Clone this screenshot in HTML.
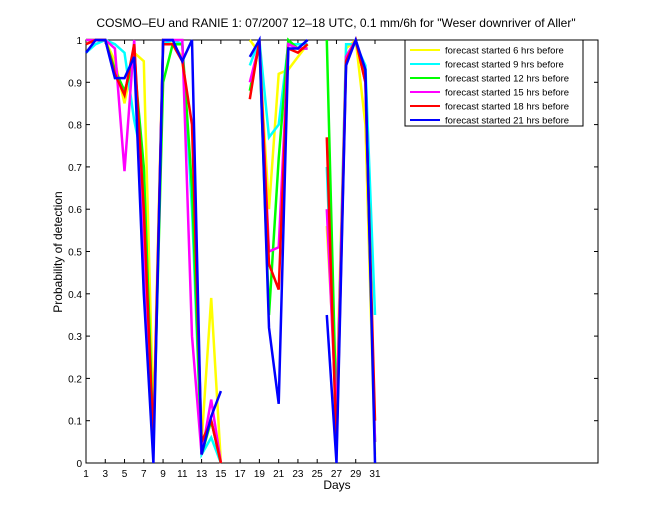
<!DOCTYPE html>
<html><head><meta charset="utf-8"><style>
body{margin:0;background:#fff;font-family:"Liberation Sans",sans-serif}
svg text{font-family:"Liberation Sans",sans-serif}
</style></head><body>
<svg id="chart" width="660" height="520">
<rect x="0" y="0" width="660" height="520" fill="#fff"/>
<text x="336" y="27" font-size="12" text-anchor="middle">COSMO–EU and RANIE 1: 07/2007 12–18 UTC, 0.1 mm/6h for "Weser downriver of Aller"</text>
<rect x="86" y="40" width="512" height="423" fill="#fff" stroke="#000"/>
<g id="axes"></g>
<g id="series"></g>
<text x="337" y="489" font-size="12" text-anchor="middle">Days</text>
<text x="62" y="252" font-size="12" text-anchor="middle" transform="rotate(-90 62 252)">Probability of detection</text>
<g id="legend"></g>
</svg>
<script>
const days=[1,2,3,4,5,6,7,8,9,10,11,12,13,14,15,16,17,18,19,20,21,22,23,24,25,26,27,28,29,30,31];
const seriesNames=["forecast started 6 hrs before","forecast started 9 hrs before","forecast started 12 hrs before","forecast started 15 hrs before","forecast started 18 hrs before","forecast started 21 hrs before"];
const seriesColors=["#ffff00","#00ffff","#00ff00","#ff00ff","#ff0000","#0000ff"];
const s6=[1,1,1,.95,.85,.97,.95,.1,1,.99,.96,.65,.05,.39,0,null,null,1,.97,.6,.92,.93,.96,.99,null,.56,.15,.98,1,.8,.02];
const s9=[.97,.99,1,.99,.97,.81,.7,.03,.99,1,.99,.6,.02,.06,0,null,null,.94,1,.77,.8,.99,.99,.99,null,.7,.1,.99,.99,.94,.35];
const s12=[1,1,1,.93,.88,.95,.7,.05,.9,.99,.99,.65,.02,.1,0,null,null,.88,.99,.35,.72,1,.98,.98,null,1,.1,.96,1,.92,.05];
const s15=[1,1,1,.98,.69,1,.5,.05,1,1,1,.3,.02,.15,0,null,null,.9,.99,.5,.51,.99,.98,.98,null,.6,.1,.96,1,.9,.05];
const s18=[.99,1,1,.92,.87,.99,.6,.05,.99,.99,.95,.8,.05,.1,0,null,null,.86,1,.47,.41,.98,.97,.99,null,.77,.03,.95,1,.9,.1];
const s21=[.97,1,1,.91,.91,.96,.4,0,1,1,.95,1,.02,.11,.17,null,null,.96,1,.32,.14,.98,.98,1,null,.35,0,.94,1,.93,0];
const allSeries=[s6,s9,s12,s15,s18,s21];
const xTicks=[1,3,5,7,9,11,13,15,17,19,21,23,25,27,29,31];
const yTicks=[0,0.1,0.2,0.3,0.4,0.5,0.6,0.7,0.8,0.9,1];
const yTickLabels=["0","0.1","0.2","0.3","0.4","0.5","0.6","0.7","0.8","0.9","1"];
const NS="http://www.w3.org/2000/svg";
const X0=86,X1=598,Y0=463,Y1=40,XMIN=1,XMAX=54.15;
const xs=d=>X0+(d-XMIN)/(XMAX-XMIN)*(X1-X0);
const ys=v=>Y0-v*(Y0-Y1);
function mk(t,a){const e=document.createElementNS(NS,t);for(const k in a)e.setAttribute(k,a[k]);return e;}
const axes=document.getElementById('axes');
xTicks.forEach(d=>{
  const x=xs(d);
  const t=mk('line',{x1:x,x2:x,y1:Y0,y2:Y0-4,stroke:'#000'});
  
  
  axes.appendChild(t);
  const t2=mk('line',{x1:x,x2:x,y1:Y1,y2:Y1+4,stroke:'#000'});
  
  
  axes.appendChild(t2);
  const l=mk('text',{x:x,y:Y0+14,'font-size':10,'text-anchor':'middle'});
  l.textContent=d;
  
  
  axes.appendChild(l);
});
yTicks.forEach((v,i)=>{
  const y=ys(v);
  const t=mk('line',{x1:X0,x2:X0+4,y1:y,y2:y,stroke:'#000'});
  
  
  axes.appendChild(t);
  const t2=mk('line',{x1:X1,x2:X1-4,y1:y,y2:y,stroke:'#000'});
  
  
  axes.appendChild(t2);
  const l=mk('text',{x:X0-4,y:y+4,'font-size':10,'text-anchor':'end'});
  l.textContent=yTickLabels[i];
  
  
  axes.appendChild(l);
});
const sg=document.getElementById('series');
allSeries.forEach((s,si)=>{
  let d='',pen=false;
  s.forEach((v,i)=>{
    if(v===null){pen=false;return;}
    d+=(pen?'L':'M')+xs(days[i]).toFixed(1)+' '+ys(v).toFixed(1)+' ';pen=true;
  });
  const p=mk('path',{d:d,fill:'none',stroke:seriesColors[si],'stroke-width':2.5});
  
  
  sg.appendChild(p);
});
const lg=document.getElementById('legend');
const box=mk('rect',{x:405,y:40,width:178,height:86,fill:'#fff',stroke:'#000'});


lg.appendChild(box);
seriesNames.forEach((n,i)=>{
  const y=50+i*14;
  const ln=mk('line',{x1:410,x2:440,y1:y,y2:y,stroke:seriesColors[i],'stroke-width':2});
  
  
  lg.appendChild(ln);
  const t=mk('text',{x:445,y:y+3.5,'font-size':9.5});
  t.textContent=n;
  
  
  lg.appendChild(t);
});
</script>
</body></html>
